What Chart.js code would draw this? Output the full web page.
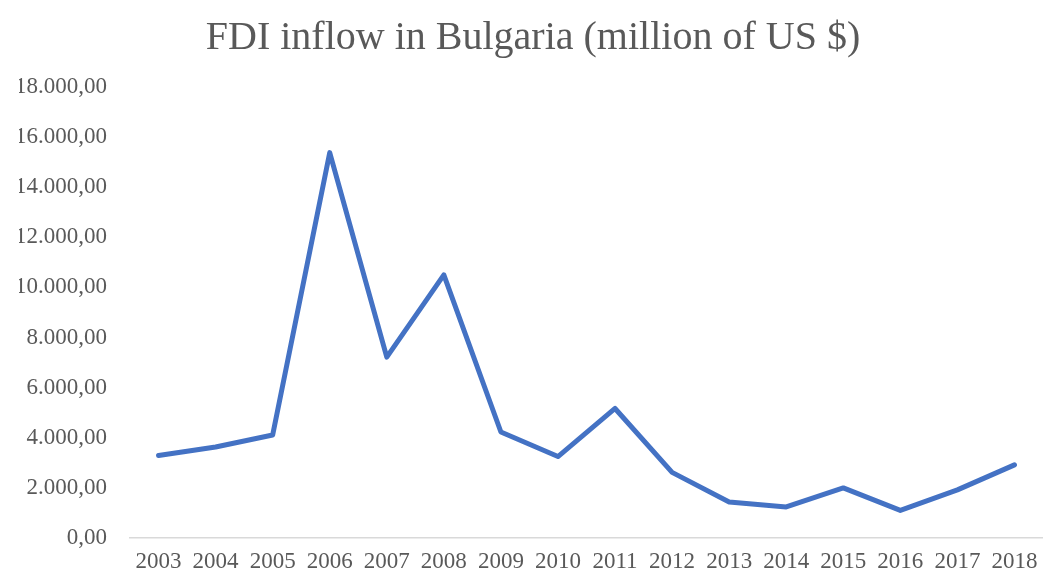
<!DOCTYPE html>
<html>
<head>
<meta charset="utf-8">
<script src="https://cdn.jsdelivr.net/npm/chart.js@4.4.1/dist/chart.umd.min.js"></script>
<style>
    html, body { margin: 0; padding: 0; background: #ffffff; }
    #wrap { width: 1043px; height: 579px; position: relative; }
</style>
</head>
<body>
<div id="wrap"><canvas id="fdi-canvas"></canvas></div>
<script>
// FDI inflow, million US $
const years = ['2003', '2004', '2005', '2006', '2007', '2008', '2009', '2010',
               '2011', '2012', '2013', '2014', '2015', '2016', '2017', '2018'];
const fdiInflow = [3290, 3630, 4110, 15380, 7220, 10500, 4230, 3250,
                   5170, 2620, 1440, 1240, 2000, 1100, 1920, 2920];
const yMin = 0;
const yMax = 18000;
const yStep = 2000;

// 18000 -> "18.000,00"
function formatEu(value) {
    const whole = Math.round(value).toString().replace(/\B(?=(\d{3})+(?!\d))/g, '.');
    return whole + ',00';
}

const textColor = '#595959';
const serif = '"Palatino Linotype", "Book Antiqua", Palatino, "Liberation Serif", serif';

const ctx = document.getElementById('fdi-canvas').getContext('2d');
const fdiChart = new Chart(ctx, {
    type: 'line',
    data: {
        labels: years,
        datasets: [{
            label: 'FDI inflow',
            data: fdiInflow,
            borderColor: '#4472C4',
            borderWidth: 5,
            borderJoinStyle: 'round',
            borderCapStyle: 'round',
            pointRadius: 0,
            tension: 0,
            fill: false
        }]
    },
    options: {
        responsive: true,
        maintainAspectRatio: false,
        animation: false,
        layout: {
            padding: { left: 19, right: -4, top: 0, bottom: 0 }
        },
        scales: {
            x: {
                offset: true,
                grid: { display: false, drawTicks: false },
                border: { display: true, color: '#D9D9D9', width: 1.5 },
                ticks: {
                    color: textColor,
                    font: { family: serif, size: 23 },
                    padding: 10,
                    maxRotation: 0,
                    minRotation: 0,
                    autoSkip: false
                },
                afterFit: function (scale) {
                    scale.height = 41;
                    // the edge labels fit inside the category offsets
                    scale.paddingLeft = 0;
                    scale.paddingRight = 0;
                }
            },
            y: {
                min: yMin,
                max: yMax,
                grid: { display: false, drawTicks: false },
                border: { display: false },
                ticks: {
                    stepSize: yStep,
                    color: textColor,
                    font: { family: serif, size: 23 },
                    padding: 23,
                    callback: function (value) { return formatEu(value); }
                },
                afterFit: function (scale) { scale.width = 111; }
            }
        },
        plugins: {
            title: {
                display: true,
                text: 'FDI inflow in Bulgaria (million of US $)',
                color: textColor,
                font: { family: serif, size: 40, weight: 'normal' },
                padding: { top: 14, bottom: 25 }
            },
            legend: { display: false },
            tooltip: { enabled: false }
        }
    }
});
</script>
</body>
</html>
